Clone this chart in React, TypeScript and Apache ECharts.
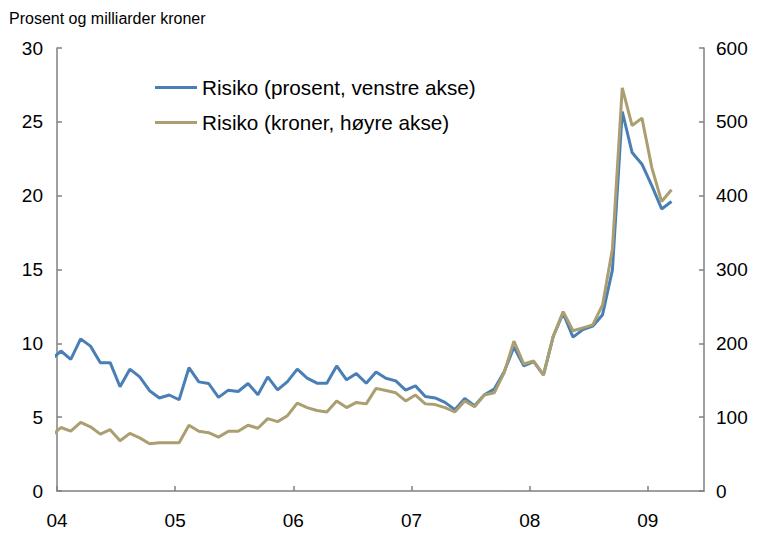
import React, { useEffect, useRef } from "react";
import * as echarts from "echarts";

// Monthly observations, Dec 2003 – Mar 2009
const months: string[] = [
  "2003-12",
  "2004-01","2004-02","2004-03","2004-04","2004-05","2004-06","2004-07","2004-08","2004-09","2004-10","2004-11","2004-12",
  "2005-01","2005-02","2005-03","2005-04","2005-05","2005-06","2005-07","2005-08","2005-09","2005-10","2005-11","2005-12",
  "2006-01","2006-02","2006-03","2006-04","2006-05","2006-06","2006-07","2006-08","2006-09","2006-10","2006-11","2006-12",
  "2007-01","2007-02","2007-03","2007-04","2007-05","2007-06","2007-07","2007-08","2007-09","2007-10","2007-11","2007-12",
  "2008-01","2008-02","2008-03","2008-04","2008-05","2008-06","2008-07","2008-08","2008-09","2008-10","2008-11","2008-12",
  "2009-01","2009-02","2009-03",
];

// Risiko, prosent (left axis)
const risikoProsent: number[] = [
  8.9,
  9.48, 8.92, 10.3, 9.81, 8.69, 8.69, 7.06, 8.25, 7.73, 6.79, 6.3, 6.5,
  6.18, 8.35, 7.39, 7.28, 6.34, 6.83, 6.74, 7.28, 6.52, 7.73, 6.85, 7.41,
  8.25, 7.64, 7.3, 7.3, 8.47, 7.53, 7.95, 7.3, 8.06, 7.64, 7.46, 6.83,
  7.12, 6.4, 6.3, 6.0, 5.51, 6.27, 5.78, 6.52, 6.9, 8.06, 9.75, 8.47,
  8.76, 7.87, 10.48, 12.05, 10.42, 10.93, 11.16, 11.94, 14.97, 25.7, 22.92, 22.13,
  20.68, 19.1, 19.6,
];

// Risiko, milliarder kroner (right axis)
const risikoKroner: number[] = [
  74,
  86, 81, 93, 87, 77, 83, 68, 78, 72, 64, 65.5, 65.5,
  65.5, 89, 81, 79, 73, 81, 81, 89, 85, 98, 94, 102,
  119, 113, 109, 107, 122, 113, 120, 118, 139, 136, 133, 122,
  130, 118, 117, 113, 107, 122, 114, 130, 133, 160, 203, 172,
  176, 157, 210, 243, 217, 221, 225, 252, 328, 546, 495, 505,
  438, 392, 408,
];

const seriesNames = ["Risiko (prosent, venstre akse)", "Risiko (kroner, høyre akse)"];
const yearLabels = ["04", "05", "06", "07", "08", "09"];
const unitTitle = "Prosent og milliarder kroner";

const FONT = "'Liberation Sans', Arial, sans-serif";
const BLUE = "#4a7fb5";
const GOLD = "#ab9e70";
const AXIS = "#808080";

// x position in months since Jan 2004 (points sit a little after month start)
const monthPos = (m: string) => {
  const [y, mo] = m.split("-").map(Number);
  return (y - 2004) * 12 + (mo - 1) + 0.4;
};

export default function App() {
  const ref = useRef<HTMLDivElement>(null);
  useEffect(() => {
    if (!ref.current) return;
    const chart = echarts.init(ref.current, undefined, { renderer: "svg" });
    const axisCommon = {
      axisLine: { show: true, onZero: false, lineStyle: { color: AXIS, width: 1.5 } },
      axisTick: { show: true, inside: true, length: 5, lineStyle: { color: AXIS, width: 1.5 } },
      splitLine: { show: false },
    };
    chart.setOption({
      animation: false,
      backgroundColor: "#ffffff",
      title: {
        text: unitTitle,
        left: 9,
        top: 10,
        padding: 0,
        textStyle: { fontSize: 16, fontWeight: "normal", color: "#000", fontFamily: FONT },
      },
      legend: {
        orient: "vertical",
        left: 155,
        top: 77,
        padding: 0,
        itemGap: 14,
        itemWidth: 42,
        itemHeight: 3,
        icon: "rect",
        textStyle: { fontSize: 20.7, color: "#000", fontFamily: FONT },
        data: seriesNames,
      },
      grid: { left: 57, right: 54, top: 48, bottom: 43 },
      xAxis: {
        type: "value",
        min: 0,
        max: 65.7,
        interval: 12,
        ...axisCommon,
        axisLabel: {
          margin: 20,
          fontSize: 19,
          color: "#000",
          fontFamily: FONT,
          showMaxLabel: false,
          formatter: (v: number) => (v % 12 === 0 ? yearLabels[v / 12] ?? "" : ""),
        },
      },
      yAxis: [
        {
          type: "value",
          position: "left",
          min: 0,
          max: 30,
          interval: 5,
          ...axisCommon,
          axisLabel: { margin: 14, fontSize: 19, color: "#000", fontFamily: FONT },
        },
        {
          type: "value",
          position: "right",
          min: 0,
          max: 600,
          interval: 100,
          ...axisCommon,
          axisLabel: { margin: 12, fontSize: 19, color: "#000", fontFamily: FONT },
        },
      ],
      series: [
        {
          name: seriesNames[0],
          type: "line",
          yAxisIndex: 0,
          symbol: "none",
          clip: true,
          lineStyle: { width: 3, color: BLUE },
          itemStyle: { color: BLUE },
          data: months.map((m, i) => [monthPos(m), risikoProsent[i]]),
        },
        {
          name: seriesNames[1],
          type: "line",
          yAxisIndex: 1,
          symbol: "none",
          clip: true,
          lineStyle: { width: 3, color: GOLD },
          itemStyle: { color: GOLD },
          data: months.map((m, i) => [monthPos(m), risikoKroner[i]]),
        },
      ],
    });
    return () => chart.dispose();
  }, []);
  return (
    <div
      ref={ref}
      style={{ position: "fixed", left: 0, top: 0, width: 758, height: 534, background: "#fff" }}
    />
  );
}
